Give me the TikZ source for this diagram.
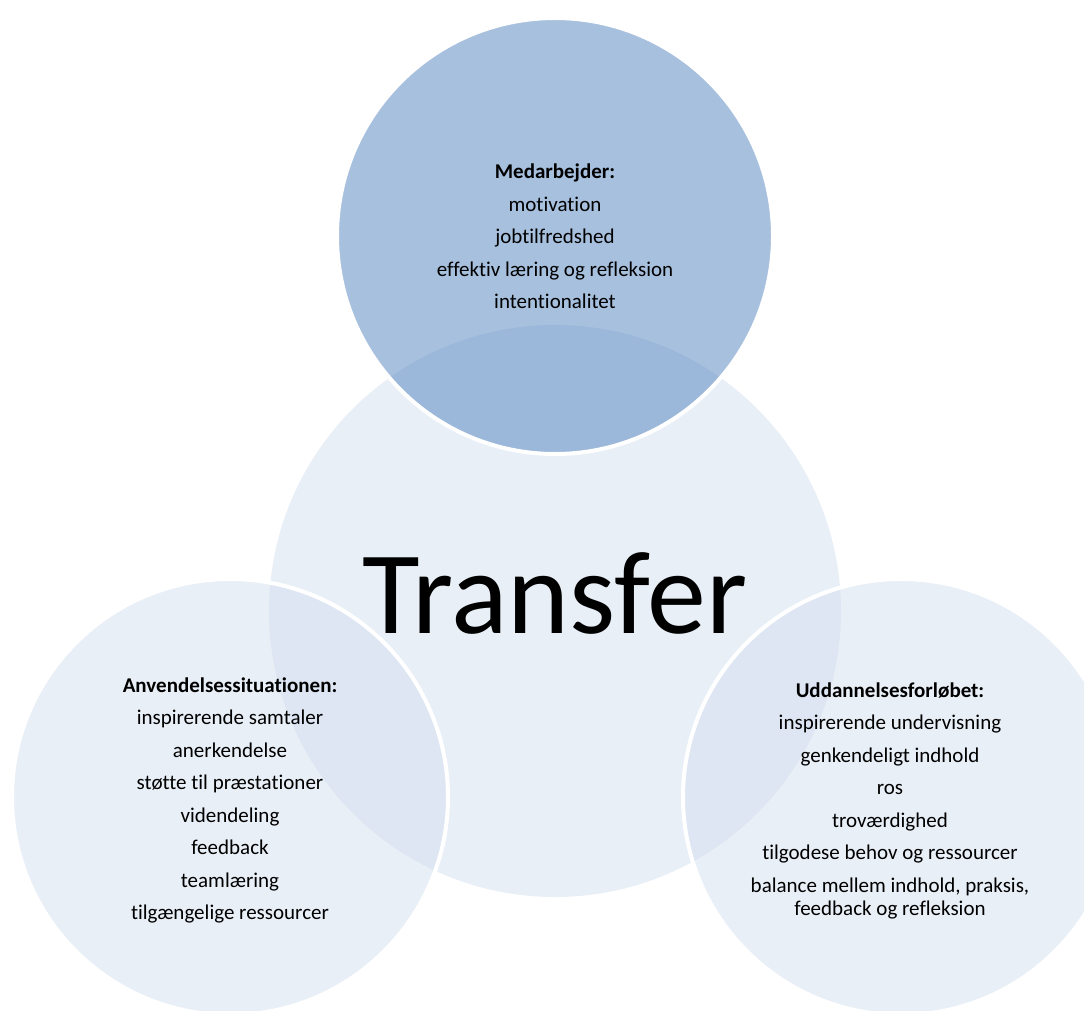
\documentclass[tikz,border=0pt]{standalone}
\usepackage{fontspec}
\setmainfont{Carlito}[Ligatures=NoCommon]
\definecolor{transferfill}{RGB}{233,239,247}
\definecolor{medfill}{RGB}{79,129,189}
\definecolor{ringfill}{RGB}{211,223,238}

\begin{document}
\begin{tikzpicture}[x=1pt,y=-1pt,font=\fontsize{21}{23}\selectfont,
  ring/.style={circle,inner sep=0pt,outer sep=0pt,minimum size=436pt,draw=white,line width=4pt,fill opacity=.5},
  ringtext/.style={align=center,inner sep=0pt}]
\useasboundingbox (0,0) rectangle (1084,1010);
% centre circle and the three around it
\node[circle,inner sep=0pt,minimum size=572pt,fill=transferfill] (transfer) at (555,611) {};
\node[ring,fill=medfill] (medarbejder) at (555,236) {};
\node[ring,fill=ringfill] (anvendelse) at (230,797) {};
\node[ring,fill=ringfill] (uddannelse) at (901,797) {};
% texts
\node[ringtext] (medtext) at (555,236.5) {\textbf{Medarbejder:}\\[9.5pt]
  motivation\\[9.5pt] jobtilfredshed\\[9.5pt]
  effektiv læring og refleksion\\[9.5pt] intentionalitet};
\node[ringtext] (anvtext) at (230,800.5) {\textbf{Anvendelsessituationen:}\\[9.5pt]
  inspirerende samtaler\\[9.5pt] anerkendelse\\[9.5pt]
  støtte til præstationer\\[9.5pt] videndeling\\[9.5pt]
  feedback\\[9.5pt] teamlæring\\[9.5pt] tilgængelige ressourcer};
\node[ringtext] (uddtext) at (890,800.5) {\textbf{Uddannelsesforløbet:}\\[9.5pt]
  inspirerende undervisning\\[9.5pt] genkendeligt indhold\\[9.5pt]
  ros\\[9.5pt] troværdighed\\[9.5pt] tilgodese behov og ressourcer\\[9.5pt]
  balance mellem indhold, praksis,\\ feedback og refleksion};
\node[inner sep=0pt,anchor=base,font=\fontsize{118}{118}\selectfont] (transfertext) at (555,633) {Transfer};
\end{tikzpicture}
\end{document}
